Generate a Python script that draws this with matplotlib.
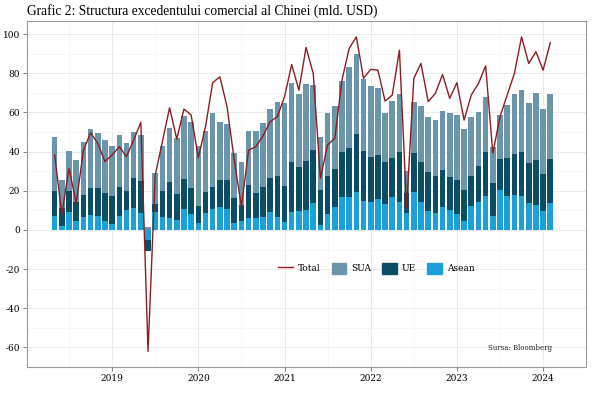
import numpy as np
import matplotlib
matplotlib.use('Agg')
import matplotlib.pyplot as plt
from matplotlib.lines import Line2D
from matplotlib.patches import Patch

# date lunare: mai 2018 - feb 2024 (70 luni)
luni = np.arange(70)
ani = ['2019', '2020', '2021', '2022', '2023', '2024']
poz_ani = [8, 20, 32, 44, 56, 68]  # ianuarie al fiecarui an

asean = [7.3, 2.0, 9.2, 4.8, 6.8, 7.7, 7.1, 4.8, 3.1, 7.1, 10.2, 11.2, 8.5, -5.0,
         9.2, 6.8, 6.3, 5.1, 10.5, 8.0, 3.7, 8.7, 10.9, 11.9, 10.7, 3.7, 4.8, 6.0,
         6.0, 6.8, 9.4, 6.8, 4.3, 9.0, 9.7, 10.2, 13.6, 2.6, 8.0, 11.6, 17.0, 17.0,
         19.6, 14.8, 14.5, 15.6, 13.3, 17.0, 14.5, 8.5, 19.2, 14.1, 9.7, 8.8, 11.9,
         10.2, 8.0, 4.8, 12.4, 14.5, 17.5, 7.1, 20.4, 17.5, 17.9, 17.3, 13.6, 12.6,
         9.7, 13.9]
ue = [12.6, 9.0, 10.7, 9.7, 11.1, 13.7, 14.3, 14.2, 14.2, 15.0, 9.7, 15.2, 16.5, -6.0,
      4.1, 13.3, 18.2, 13.1, 15.4, 13.3, 8.7, 10.5, 11.2, 13.6, 14.8, 12.8, 8.0, 17.0,
      12.7, 15.3, 17.0, 20.9, 18.1, 25.5, 22.6, 25.0, 27.2, 17.8, 19.7, 19.5, 23.0, 25.0,
      29.4, 25.5, 22.9, 22.7, 21.6, 19.6, 25.5, 10.2, 20.3, 20.8, 19.7, 18.9, 18.7,
      17.0, 17.5, 15.6, 15.3, 18.3, 22.1, 16.7, 15.7, 19.1, 20.9, 22.5, 20.4, 23.1,
      18.9, 22.2]
sua = [27.4, 14.5, 20.6, 21.0, 27.0, 30.0, 27.9, 26.9, 25.7, 26.4, 24.7, 23.4, 23.3, 1.7,
       15.6, 22.8, 27.7, 28.9, 32.4, 34.0, 30.6, 31.5, 37.4, 29.8, 28.4, 23.0, 22.1, 27.7,
       31.8, 32.3, 35.3, 37.6, 42.2, 40.7, 36.9, 39.3, 33.2, 26.9, 32.2, 32.2, 36.2, 41.3,
       41.1, 36.6, 36.1, 34.0, 24.6, 29.4, 29.4, 11.6, 26.0, 28.5, 28.1, 28.4, 30.3,
       32.3, 33.2, 31.0, 29.8, 27.6, 28.4, 18.7, 22.6, 27.0, 30.6, 31.6, 31.0, 34.0,
       33.3, 33.3]
total = [38.3, 8.0, 31.5, 13.6, 40.5, 49.7, 44.2, 34.9, 38.3, 42.5, 37.4, 45.9, 54.9, -62.0,
         28.0, 45.1, 62.4, 46.4, 61.7, 58.7, 36.9, 52.7, 75.2, 78.2, 62.9, 35.7, 11.9, 40.8,
         42.5, 48.0, 55.3, 57.8, 68.0, 84.5, 71.4, 93.2, 79.9, 26.4, 43.4, 46.8, 76.5, 92.7,
         98.6, 77.4, 82.0, 81.6, 65.8, 68.9, 91.8, 11.5, 77.4, 85.0, 65.5, 69.7, 79.4,
         67.2, 75.2, 56.1, 68.9, 74.8, 83.8, 39.1, 57.8, 68.9, 79.9, 98.6, 85.0, 91.0,
         81.6, 95.6]

serii = [('Asean', asean, '#1ba1d8'), ('UE', ue, '#0c4d66'), ('SUA', sua, '#6b95aa')]

plt.rcParams['font.family'] = ['DejaVu Serif']
plt.rcParams['axes.unicode_minus'] = False

fig = plt.figure(figsize=(6, 3.97), dpi=100)
ax = fig.add_axes([0.045, 0.0756, 0.932, 0.871])

jos_poz = np.zeros(len(luni))
jos_neg = np.zeros(len(luni))
for nume, val, culoare in serii:
    v = np.array(val)
    baza = np.where(v >= 0, jos_poz, jos_neg)
    ax.bar(luni, v, bottom=baza, width=0.78, color=culoare, linewidth=0, zorder=2)
    jos_poz = jos_poz + np.where(v >= 0, v, 0)
    jos_neg = jos_neg + np.where(v < 0, v, 0)

ax.plot(luni, total, color='#8c1c24', lw=1.0, zorder=3)

ax.set_xlim(-3.85, 72.9)
ax.set_ylim(-70, 106.6)
ax.set_xticks(poz_ani)
ax.set_xticklabels(ani)
ax.set_xticks([p - 6 for p in poz_ani] + [74], minor=True)
ax.set_yticks(np.arange(-60, 101, 20))
ax.set_yticks(np.arange(-70, 106, 10), minor=True)
ax.tick_params(axis='both', which='major', labelsize=6.5, color='#888888', length=3, pad=2)
ax.tick_params(axis='both', which='minor', length=0)
ax.grid(which='major', color='#e8e8e8', lw=0.6, zorder=0)
ax.grid(which='minor', color='#f4f4f4', lw=0.5, zorder=0)
ax.set_axisbelow(True)
for s in ax.spines.values():
    s.set_color('#999999')
    s.set_linewidth(0.8)

fig.text(0.045, 0.973, 'Grafic 2: Structura excedentului comercial al Chinei (mld. USD)',
         fontsize=9.75, ha='left', va='center', family='Liberation Serif')

handles = [Line2D([], [], color='#8c1c24', lw=1.0),
           Patch(color='#6b95aa'), Patch(color='#0c4d66'), Patch(color='#1ba1d8')]
ax.legend(handles, ['Total', 'SUA', 'UE', 'Asean'], ncol=4, frameon=False,
          loc='center', bbox_to_anchor=(0.625, 0.285), fontsize=6.5,
          handlelength=1.6, handleheight=1.6, columnspacing=1.2, handletextpad=0.6)

ax.text(0.939, 0.055, 'Sursa: Bloomberg', transform=ax.transAxes, fontsize=5.0,
        ha='right', va='center', color='#222222')

fig.savefig('out.png', dpi=100)
